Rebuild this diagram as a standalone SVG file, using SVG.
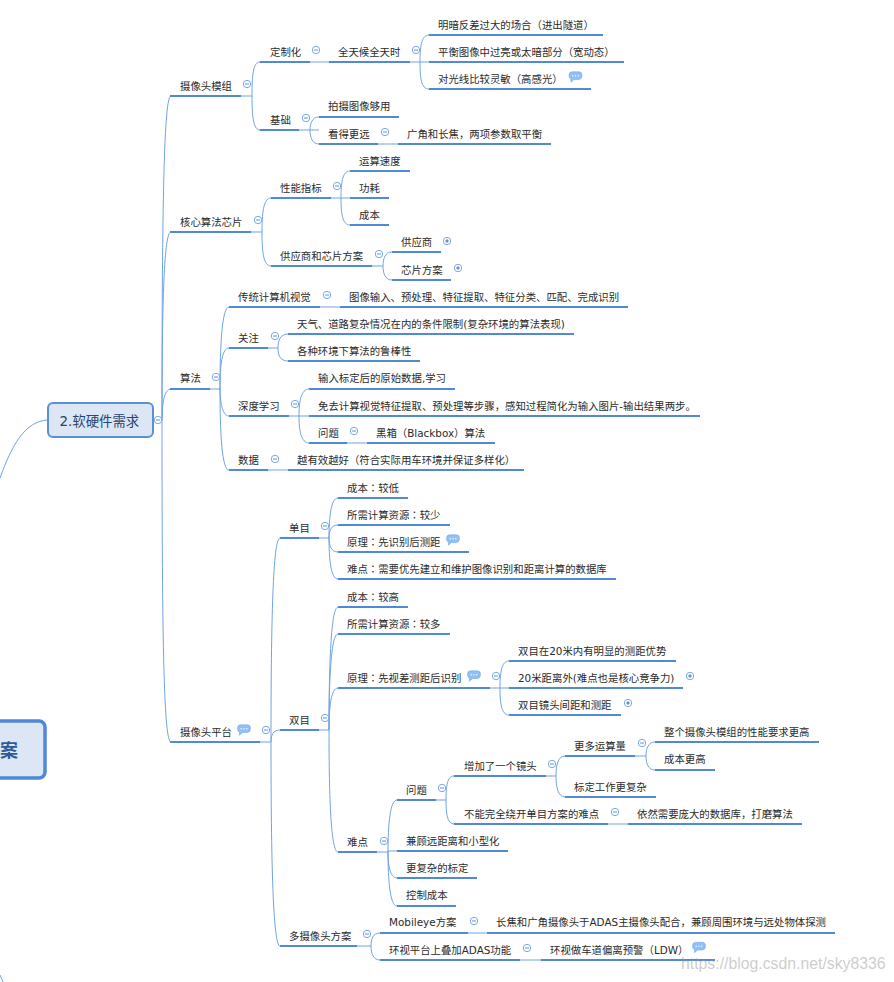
<svg xmlns="http://www.w3.org/2000/svg" width="894" height="982" viewBox="0 0 894 982">
<style>
text{font-family:"DejaVu Sans","Noto Sans CJK SC",sans-serif;font-size:10.4px;fill:#2a2a2a}
.tc{font-family:"Noto Sans CJK TC",sans-serif}
.u{stroke:#5089d8;stroke-width:2;fill:none}
.c{stroke:#6fa3e4;stroke-width:1;fill:none}
.root{fill:#dce6f4;stroke:#5b8fd6;stroke-width:2}
.central{fill:#dce6f4;stroke:#4f88d6;stroke-width:3.5}
</style>
<defs>
<g id="minus"><circle r="3.7" fill="#fff" stroke="#7aa7e6" stroke-width="1"/><path d="M-2 0H2" stroke="#5f93dc" stroke-width="1"/></g>
<g id="plus"><circle r="3.7" fill="#fff" stroke="#7aa7e6" stroke-width="1"/><path d="M-1.800 0H1.800M0 -1.800V1.800" stroke="#3f6cb8" stroke-width="1"/></g>
<g id="note"><path d="M-3.500 -5.200H3.500Q6.500 -5.200 6.500 -1.500Q6.500 2.500 3 2.500H-1.500L-4.500 5.200V2.200Q-6.500 1.500 -6.500 -1.500Q-6.500 -5.200 -3.500 -5.200Z" fill="#8fc0f6" stroke="#74aaf0" stroke-width=".6"/><g fill="#fff"><circle cx="-2.800" cy="-1.300" r=".7"/><circle cy="-1.300" r=".7"/><circle cx="2.800" cy="-1.300" r=".7"/></g></g>
</defs>
<g id="connectors" class="c">
<path d="M48 420C25 421 12 445 0 478M0 975L3 982"/>
<path d="M153 420H162M162 420C162 200 164 96 171 96M162 420C162 300 164 232 171 232M162 420C162 405 164 389 171 389M162 420C162 650 164 742 171 742"/>
<path d="M241 96H252M252 96C252 75 253 62 260 62M252 96C252 115 253 130 260 130M310 62H329"/>
<path d="M410 62H429M420 62C420 48 421 35 429 35M420 62C420 78 421 89 429 89"/>
<path d="M299 130H319M310 130C310 124 312 117 319 117M310 130C310 137 312 144 319 144M378 144H398"/>
<path d="M251 232H262M262 232C262 215 263 198 271 198M262 232C262 250 263 266 271 266"/>
<path d="M331 198H350M341 198C341 184 342 171 350 171M341 198C341 212 342 225 350 225"/>
<path d="M372 266H383M383 266C383 259 385 252 392 252M383 266C383 273 385 280 392 280"/>
<path d="M210 389H220M220 389C220 345 222 307 229 307M220 389C220 365 222 348 229 348M220 389C220 400 222 416 229 416M220 389C220 435 222 470 229 470M320 307H340"/>
<path d="M268 348H278M278 348C278 341 280 334 288 334M278 348C278 355 280 361 288 361M268 470H288"/>
<path d="M289 416H309M299 416C299 402 301 389 309 389M299 416C299 430 301 443 309 443M347 443H367"/>
<path d="M260 742H271M271 742C271 620 273 538 280 538M271 742C271 735 273 730 280 730M271 742C271 860 273 946 280 946"/>
<path d="M319 538H329M329 538C329 517 331 498 338 498M329 538C329 531 331 525 338 525M329 538C329 545 331 552 338 552M329 538C329 560 331 579 338 579"/>
<path d="M319 730H329M329 730C329 665 331 607 338 607M329 730C329 680 331 634 338 634M329 730C329 707 331 688 338 688M329 730C329 800 331 852 338 852"/>
<path d="M490 688H509M500 688C500 674 501 661 509 661M500 688C500 702 501 715 509 715"/>
<path d="M377 852H388M388 852C388 825 390 800 397 800M388 852V851H397M388 852C388 865 390 878 397 878M388 852C388 880 390 906 397 906"/>
<path d="M436 800H446M446 800C446 787 447 776 454 776M446 800C446 813 447 824 454 824"/>
<path d="M546 776H556M556 776C556 765 558 756 565 756M556 776C556 787 558 797 565 797"/>
<path d="M635 756H646M646 756C646 749 648 742 655 742M646 756C646 763 648 770 655 770M608 824H628"/>
<path d="M357 946H371M371 946C371 939 373 933 380 933M371 946C371 953 373 960 380 960M468 933H487M520 960H541"/>
</g>
<g id="central"><rect class="central" x="-30" y="721" width="75" height="57" rx="6"/><text x="0" y="757" style="font-size:18px;font-weight:700;fill:#2f5b94">案</text></g>
<g id="root"><rect class="root" x="48" y="403" width="105" height="34" rx="5"/><text x="59.500" y="426" style="font-size:13.400px;fill:#24436e">2.软硬件需求</text><use href="#minus" x="158" y="420"/></g>
<g id="n1"><path class="u" d="M170 96H241"/><text x="180" y="90">摄像头模组</text><use href="#minus" x="247" y="84"/></g>
<g id="n2"><path class="u" d="M260 62H310"/><text x="270" y="56">定制化</text><use href="#minus" x="316" y="50"/></g>
<g id="n3"><path class="u" d="M329 62H410"/><text x="338" y="56">全天候全天时</text><use href="#minus" x="416" y="50"/></g>
<g id="n4"><path class="u" d="M429 35H603"/><text x="438" y="29">明暗反差过大的场合（进出隧道）</text></g>
<g id="n5"><path class="u" d="M429 62H624"/><text x="438" y="56">平衡图像中过亮或太暗部分（宽动态）</text></g>
<g id="n6"><path class="u" d="M429 89H591"/><text x="438" y="83">对光线比较灵敏（高感光）</text><use href="#note" x="575.500" y="77"/></g>
<g id="n7"><path class="u" d="M260 130H299"/><text x="270" y="124">基础</text><use href="#minus" x="306" y="118"/></g>
<g id="n8"><path class="u" d="M319 117H399"/><text x="328" y="110">拍摄图像够用</text></g>
<g id="n9"><path class="u" d="M319 144H378"/><text x="328" y="138">看得更远</text><use href="#minus" x="385" y="132"/></g>
<g id="n10"><path class="u" d="M398 144H551"/><text x="407" y="138">广角和长焦，两项参数取平衡</text></g>
<g id="n11"><path class="u" d="M170 232H251"/><text x="180" y="226">核心算法芯片</text><use href="#minus" x="258" y="220"/></g>
<g id="n12"><path class="u" d="M271 198H331"/><text x="280" y="192">性能指标</text><use href="#minus" x="337" y="186"/></g>
<g id="n13"><path class="u" d="M350 171H410"/><text x="359" y="165">运算速度</text></g>
<g id="n14"><path class="u" d="M350 198H389"/><text x="359" y="192">功耗</text></g>
<g id="n15"><path class="u" d="M350 225H389"/><text x="359" y="219">成本</text></g>
<g id="n16"><path class="u" d="M271 266H372"/><text x="280" y="260">供应商和芯片方案</text><use href="#minus" x="379" y="254"/></g>
<g id="n17"><path class="u" d="M392 252H441"/><text x="401" y="246">供应商</text><use href="#plus" x="447" y="241"/></g>
<g id="n18"><path class="u" d="M392 280H451"/><text x="401" y="274">芯片方案</text><use href="#plus" x="458" y="268"/></g>
<g id="n19"><path class="u" d="M170 389H210"/><text x="180" y="382">算法</text><use href="#minus" x="216" y="377"/></g>
<g id="n20"><path class="u" d="M229 307H320"/><text x="238" y="301">传统计算机视觉</text><use href="#minus" x="327" y="295"/></g>
<g id="n21"><path class="u" d="M340 307H628"/><text x="349" y="301">图像输入、预处理、特征提取、特征分类、匹配、完成识别</text></g>
<g id="n22"><path class="u" d="M229 348H268"/><text x="238" y="342">关注</text><use href="#minus" x="275" y="336"/></g>
<g id="n23"><path class="u" d="M288 334H574"/><text x="297" y="328">天气、道路复杂情况在内的条件限制(复杂环境的算法表现)</text></g>
<g id="n24"><path class="u" d="M288 361H420"/><text x="297" y="355">各种环境下算法的鲁棒性</text></g>
<g id="n25"><path class="u" d="M229 416H289"/><text x="238" y="410">深度学习</text><use href="#minus" x="295" y="404"/></g>
<g id="n26"><path class="u" d="M309 389H455"/><text x="318" y="382">输入标定后的原始数据,学习</text></g>
<g id="n27"><path class="u" d="M309 416H700"/><text x="318" y="410">免去计算视觉特征提取、预处理等步骤，感知过程简化为输入图片-输出结果两步。</text></g>
<g id="n28"><path class="u" d="M309 443H347"/><text x="318" y="437">问题</text><use href="#minus" x="354" y="431"/></g>
<g id="n29"><path class="u" d="M367 443H495"/><text x="376" y="437">黑箱（Blackbox）算法</text></g>
<g id="n30"><path class="u" d="M229 470H268"/><text x="238" y="464">数据</text><use href="#minus" x="275" y="459"/></g>
<g id="n31"><path class="u" d="M288 470H524"/><text x="297" y="464">越有效越好（符合实际用车环境并保证多样化）</text></g>
<g id="n32"><path class="u" d="M170 742H260"/><text x="180" y="736">摄像头平台</text><use href="#note" x="244" y="730"/><use href="#minus" x="266" y="730"/></g>
<g id="n33"><path class="u" d="M280 538H319"/><text x="289" y="532">单目</text><use href="#minus" x="325" y="526"/></g>
<g id="n34"><path class="u" d="M338 498H408"/><text x="347" y="491.500">成本<tspan class="tc">：</tspan>较低</text></g>
<g id="n35"><path class="u" d="M338 525H450"/><text x="347" y="518.500">所需计算资源<tspan class="tc">：</tspan>较少</text></g>
<g id="n36"><path class="u" d="M338 552H469"/><text x="347" y="545.500">原理<tspan class="tc">：</tspan>先识别后测距</text><use href="#note" x="453" y="540"/></g>
<g id="n37"><path class="u" d="M338 579H616"/><text x="347" y="573">难点<tspan class="tc">：</tspan>需要优先建立和维护图像识别和距离计算的数据库</text></g>
<g id="n38"><path class="u" d="M280 730H319"/><text x="289" y="724">双目</text><use href="#minus" x="325" y="718"/></g>
<g id="n39"><path class="u" d="M338 607H408"/><text x="347" y="600.500">成本<tspan class="tc">：</tspan>较高</text></g>
<g id="n40"><path class="u" d="M338 634H450"/><text x="347" y="627.500">所需计算资源<tspan class="tc">：</tspan>较多</text></g>
<g id="n41"><path class="u" d="M338 688H490"/><text x="347" y="682">原理<tspan class="tc">：</tspan>先视差测距后识别</text><use href="#note" x="474" y="676"/><use href="#minus" x="496" y="676"/></g>
<g id="n42"><path class="u" d="M509 661H676"/><text x="518" y="655">双目在20米内有明显的测距优势</text></g>
<g id="n43"><path class="u" d="M509 688H683"/><text x="518" y="682">20米距离外(难点也是核心竞争力)</text><use href="#plus" x="690" y="676"/></g>
<g id="n44"><path class="u" d="M509 715H621"/><text x="518" y="709">双目镜头间距和测距</text><use href="#plus" x="628" y="703"/></g>
<g id="n45"><path class="u" d="M338 852H377"/><text x="347" y="846">难点</text><use href="#minus" x="384" y="841"/></g>
<g id="n46"><path class="u" d="M397 800H436"/><text x="406" y="794">问题</text><use href="#minus" x="442" y="788"/></g>
<g id="n47"><path class="u" d="M454 776H546"/><text x="464" y="770">增加了一个镜头</text><use href="#minus" x="552" y="764"/></g>
<g id="n48"><path class="u" d="M565 756H635"/><text x="574" y="750">更多运算量</text><use href="#minus" x="642" y="743"/></g>
<g id="n49"><path class="u" d="M655 742H819"/><text x="664" y="736">整个摄像头模组的性能要求更高</text></g>
<g id="n50"><path class="u" d="M655 770H715"/><text x="664" y="763">成本更高</text></g>
<g id="n51"><path class="u" d="M565 797H656"/><text x="574" y="791">标定工作更复杂</text></g>
<g id="n52"><path class="u" d="M454 824H608"/><text x="464" y="818">不能完全绕开单目方案的难点</text><use href="#minus" x="615" y="812"/></g>
<g id="n53"><path class="u" d="M628 824H802"/><text x="637" y="818">依然需要庞大的数据库，打磨算法</text></g>
<g id="n54"><path class="u" d="M397 851H508"/><text x="406" y="845">兼顾远距离和小型化</text></g>
<g id="n55"><path class="u" d="M397 878H477"/><text x="406" y="872">更复杂的标定</text></g>
<g id="n56"><path class="u" d="M397 906H456"/><text x="406" y="899">控制成本</text></g>
<g id="n57"><path class="u" d="M280 946H357"/><text x="289" y="940">多摄像头方案</text><use href="#minus" x="367" y="934"/></g>
<g id="n58"><path class="u" d="M380 933H468"/><text x="389" y="926">Mobileye方案</text><use href="#minus" x="474" y="921"/></g>
<g id="n59"><path class="u" d="M487 933H835"/><text x="496" y="926">长焦和广角摄像头于ADAS主摄像头配合，兼顾周围环境与远处物体探测</text></g>
<g id="n60"><path class="u" d="M380 960H520"/><text x="389" y="954">环视平台上叠加ADAS功能</text><use href="#minus" x="527" y="948"/></g>
<g id="n61"><path class="u" d="M541 960H715"/><text x="550" y="954">环视做车道偏离预警（LDW）</text><use href="#note" x="699" y="947.500"/></g>
<text id="watermark" x="681" y="969" style="font-family:'Liberation Sans',sans-serif;font-size:15.800px;fill:#9a9a9a;fill-opacity:.5">https://blog.csdn.net/sky8336</text>
</svg>
